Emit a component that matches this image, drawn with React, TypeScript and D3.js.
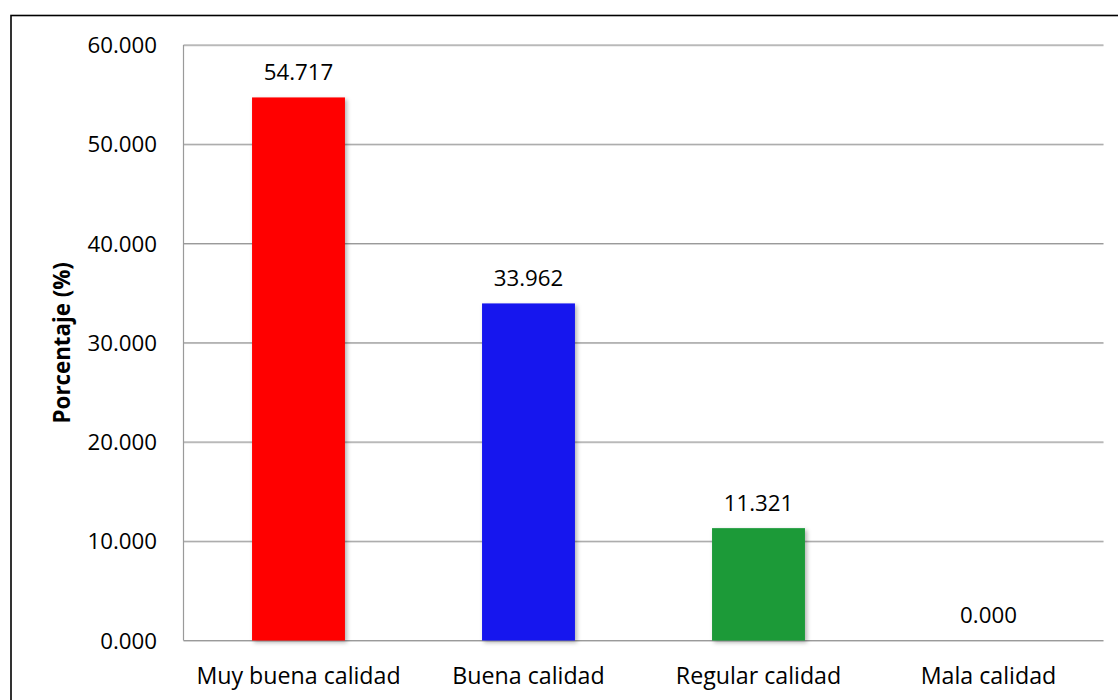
import React from "react";
import * as d3 from "d3";

const categories = ["Muy buena calidad", "Buena calidad", "Regular calidad", "Mala calidad"];
const values = [54.717, 33.962, 11.321, 0.0];
const barColors = ["#FF0000", "#1414EE", "#1B9A38", "#888888"];
const yTicks = [0, 10, 20, 30, 40, 50, 60];
const yTitle = "Porcentaje (%)";

const W = 1118;
const H = 700;
const left = 183.5;
const right = 1103.5;
const top = 45;
const bottom = 640.5;
const FONT = "'Open Sans', sans-serif";
const FS = 22.3;

export default function App() {
  const x = d3.scaleBand<string>().domain(categories).range([left, right]).paddingInner(0.596).paddingOuter(0.298);
  const y = d3.scaleLinear().domain([0, 60]).range([bottom, top]);
  const fmt = d3.format(".3f");
  return (
    <svg width={W} height={H} style={{ position: "absolute", left: 0, top: 0, background: "#fff" }}>
      <defs>
        <filter id="sh" x="-20%" y="-20%" width="140%" height="140%">
          <feDropShadow dx="2" dy="2" stdDeviation="2" floodColor="#000" floodOpacity="0.3" />
        </filter>
      </defs>
      <rect x={0} y={0} width={W} height={H} fill="#fff" />
      <rect x={11} y={15.5} width={W + 20} height={H + 20} fill="none" stroke="#000" strokeWidth={1.6} />
      {yTicks.map((t) => (
        <g key={t}>
          <line x1={left} x2={right} y1={y(t) + 0.8} y2={y(t) + 0.8} stroke="#c8c8c8" strokeWidth={1} />
          <line x1={left} x2={right} y1={y(t)} y2={y(t)} stroke="#9a9a9a" strokeWidth={1.2} />
          <text x={157} y={y(t)} dy="0.36em" textAnchor="end" fontFamily={FONT} fontSize={FS} fill="#000">
            {fmt(t)}
          </text>
        </g>
      ))}
      <line x1={left} x2={left} y1={top} y2={bottom} stroke="#9a9a9a" strokeWidth={1.2} />
      {categories.map((c, i) => (
        <g key={c}>
          {values[i] > 0 && (
            <rect
              x={x(c)}
              y={y(values[i])}
              width={x.bandwidth()}
              height={bottom - y(values[i])}
              fill={barColors[i]}
              filter="url(#sh)"
            />
          )}
          <text x={(x(c) as number) + x.bandwidth() / 2} y={y(values[i]) - 17.5} textAnchor="middle" fontFamily={FONT} fontSize={FS} fill="#000">
            {fmt(values[i])}
          </text>
          <text x={(x(c) as number) + x.bandwidth() / 2} y={683.5} textAnchor="middle" fontFamily={FONT} fontSize={23.2} fill="#000">
            {c}
          </text>
        </g>
      ))}
      <text
        transform={`translate(70,${(top + bottom) / 2}) rotate(-90)`}
        textAnchor="middle"
        fontFamily={FONT}
        fontSize={FS}
        fontWeight="bold"
        fill="#000"
      >
        {yTitle}
      </text>
    </svg>
  );
}
